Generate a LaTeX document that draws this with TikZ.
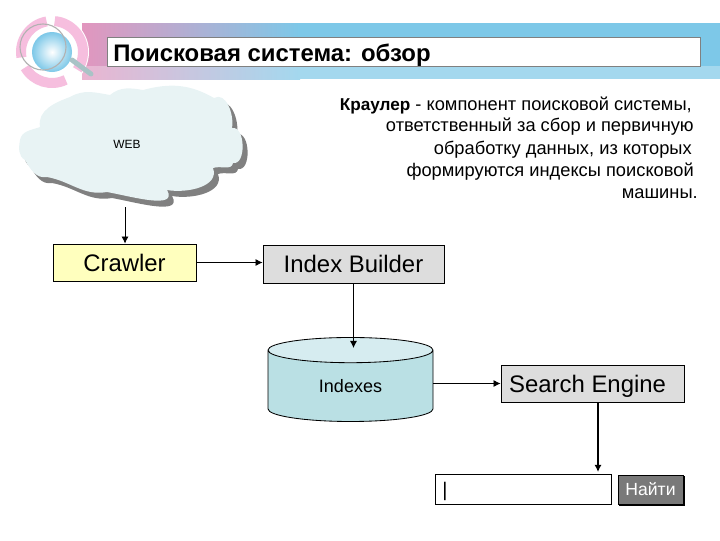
\documentclass[tikz,border=0pt]{standalone}
\usepackage{fontspec}
\setmainfont{Liberation Sans}
\usetikzlibrary{arrows.meta,calc,shapes.geometric}
\definecolor{cloudfill}{RGB}{232,243,244}
\definecolor{cloudshadow}{RGB}{128,128,128}
\definecolor{cylbody}{RGB}{186,224,228}
\definecolor{cyltop}{RGB}{214,236,240}
\definecolor{boxgray}{RGB}{221,221,221}
\definecolor{boxyellow}{RGB}{255,255,190}
\definecolor{bandpink}{RGB}{226,150,190}
\definecolor{bandblue}{RGB}{125,200,232}
\definecolor{ringpink}{RGB}{246,190,222}
\newcommand{\cloudpath}{(20,140) to[out=80,in=200] (40,127) to[out=100,in=200] (70,97)
  to[out=30,in=170] (110,95) to[out=40,in=170] (143,90) to[out=15,in=150] (214,98)
  to[out=30,in=80] (232,128) to[out=10,in=-10] (233,163) to[out=-100,in=20] (213,168)
  to[out=-70,in=-10] (167,190) to[out=-60,in=-10] (107,192) to[out=190,in=-10] (47,177)
  to[out=190,in=-60] (25,160) to[out=150,in=-100] (20,140) -- cycle}
\begin{document}
\begin{tikzpicture}[x=0.025cm,y=-0.025cm,
  block/.style={draw=black,line width=0.6pt,inner sep=0pt,text depth=0pt,font=\fontsize{17}{20}\selectfont},
  line/.style={font=\fontsize{13}{15}\selectfont,anchor=base east,inner sep=0pt},
  ring/.style={ringpink,line width=10*0.025cm},
  link/.style={-{Latex[length=5pt,width=5pt]},line width=0.6pt}]
\useasboundingbox (0,0) rectangle (720,540);
% header band
\shade[left color=bandpink,right color=bandblue] (82,23) rectangle (300,79);
\fill[bandblue] (299.5,23) rectangle (720,79);
\fill[white,opacity=.3] (82,66) rectangle (720,80);
\node[draw=gray,fill=white,minimum width=593*0.025cm,minimum height=29*0.025cm,anchor=north west,inner sep=0pt] (titlebox) at (107,37) {};
\node[font=\bfseries\fontsize{17}{20}\selectfont,anchor=base west,inner sep=0pt] (title) at (113,61) {Поисковая система: обзор};
% logo
\fill[white] (52,52) circle (37);
\draw[ring] ([shift={(52,52)}]-85:31) arc (-85:35:31);
\draw[ring] ([shift={(52,52)}]-100:31) arc (-100:-190:31);
\draw[ring] ([shift={(52,52)}]150:31) arc (150:64:31);
\shade[inner color=white,outer color=bandblue] (52,52) circle (20);
\draw[gray!60,line width=0.8pt] (43,47) circle (23);
\draw[cylbody!70!gray,line width=5*0.025cm,line cap=round] (72,60) -- (91,74);
% cloud
\begin{scope}[shift={(5,6)}]
\fill[cloudshadow] \cloudpath;
\end{scope}
\fill[cloudfill] \cloudpath;
\node[font=\fontsize{8.5}{10}\selectfont,inner sep=0pt] (web) at (127,144) {WEB};
\coordinate (cloudout) at (125,207);
% text
\node[line] (l1) at (692,110) {\textbf{\fontsize{12.2}{15}\selectfont Краулер} - компонент поисковой системы,};
\node[line] (l2) at (694,131) {ответственный за сбор и первичную};
\node[line] (l3) at (692,154) {обработку данных, из которых};
\node[line] (l4) at (694,176) {формируются индексы поисковой};
\node[line] (l5) at (698,198) {машины.};
% boxes
\node[block,fill=boxyellow,minimum width=143*0.025cm,minimum height=37*0.025cm] (crawler) at (124.5,262.5) {Crawler};
\node[block,fill=boxgray,minimum width=181*0.025cm,minimum height=38*0.025cm] (builder) at (353.5,264) {Index Builder};
\node[block,fill=boxgray,minimum width=183*0.025cm,minimum height=37*0.025cm] (search) at (592.5,383.5) {Search Engine\kern7pt};
\node[cylinder,shape border rotate=90,draw=black,line width=0.6pt,cylinder uses custom fill,cylinder body fill=cylbody,cylinder end fill=cyltop,aspect=0.4,minimum width=165*0.025cm,minimum height=84*0.025cm,inner sep=0pt,font=\fontsize{12.8}{15}\selectfont] (indexes) at (350.5,386) {Indexes};
\node[draw=black,line width=0.6pt,fill=white,minimum width=176*0.025cm,minimum height=30*0.025cm,inner sep=0pt] (query) at (523,489) {};
\node[font=\fontsize{14}{16}\selectfont,inner sep=0pt] (caret) at (445,491) {|};
\node[fill=black,minimum width=66*0.025cm,minimum height=30*0.025cm,inner sep=0pt] (btnshadow) at (651.5,490.5) {};
\node[draw=black,line width=0.4pt,fill=gray!95!black,text=white,minimum width=65*0.025cm,minimum height=29*0.025cm,inner sep=0pt,font=\fontsize{12.5}{15}\selectfont] (button) at (650.5,489.5) {Найти};
% arrows
\coordinate (indexin) at (353.5,348);
\coordinate (searchout) at (598,402);
\coordinate (queryin) at (598,472);
\draw[link] (cloudout) -- (crawler.north -| cloudout);
\draw[link] (crawler.east) -- (crawler.east -| builder.west);
\draw[link] (builder.south) -- (indexin);
\draw[link] (indexes.east |- search.west) -- (search.west);
\draw[link,line width=1.2pt] (searchout) -- (queryin);
\end{tikzpicture}
\end{document}
